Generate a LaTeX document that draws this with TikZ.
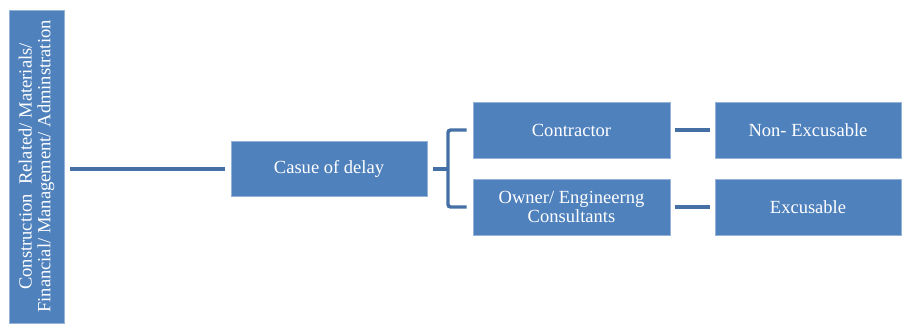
\documentclass[tikz,border=0pt]{standalone}
\usepackage{fontspec}
\setmainfont{Liberation Serif}
\usetikzlibrary{positioning}

\definecolor{boxblue}{RGB}{79,129,189}
\definecolor{linkblue}{RGB}{68,112,166}

\tikzset{
  blk/.style={draw=boxblue!60!white, line width=0.6pt, fill=boxblue, text=white,
    font=\fontsize{13.9}{14}\selectfont, align=center, inner sep=0pt},
  link/.style={draw=linkblue, line width=3pt},
}

\begin{document}
\begin{tikzpicture}[x=0.75pt,y=0.75pt,yscale=-1]
\useasboundingbox (0,0) rectangle (902,324);

%Shape: left group, text runs upwards
\node[blk, rotate=90, minimum width=234.75pt, minimum height=41.25pt] (grp) at (36.5,166.5)
  {Construction\ \ Related/ Materials/\\Financial/ Management/ Adminstration};

%Shape: middle box
\node[blk, minimum width=147pt, minimum height=41.25pt] (cause) at (329,168.5) {Casue of delay};

%Shape: parties
\node[blk, minimum width=147.75pt, minimum height=42pt] (con) at (571.5,130) {Contractor};
\node[blk, minimum width=147.75pt, minimum height=42pt] (own) at (571.5,207) {Owner/ Engineerng\\Consultants};

%Shape: outcome
\node[blk, minimum width=139.5pt, minimum height=42pt] (nex) at (808,130) {Non- Excusable};
\node[blk, minimum width=139.5pt, minimum height=42pt] (exc) at (808,207) {Excusable};

%Lines
\coordinate (fork) at (448,168.5);
\draw[link, shorten <=4.5pt, shorten >=4.5pt] (cause.west -| grp.south) -- (cause.west);
\draw[link, shorten <=4.5pt] (cause.east) -- (fork);
\draw[link, line width=2.6pt, rounded corners=2pt] ([xshift=-4.5pt]con.west) -| (fork) |- ([xshift=-4.5pt]own.west);
\draw[link, shorten <=3.75pt, shorten >=3.75pt] (con) -- (nex);
\draw[link, shorten <=3.75pt, shorten >=3.75pt] (own) -- (exc);

\end{tikzpicture}
\end{document}
